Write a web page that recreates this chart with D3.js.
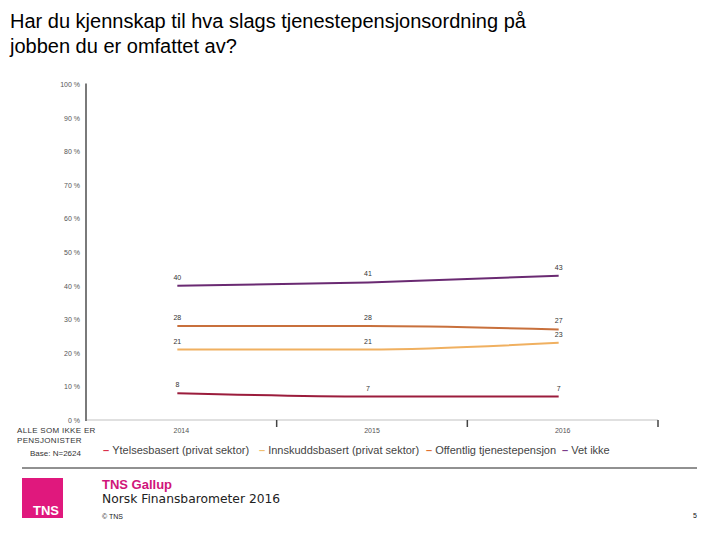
<!DOCTYPE html>
<html><head><meta charset="utf-8">
<script src="https://cdn.jsdelivr.net/npm/d3@7"></script>
<style>body{margin:0;background:#fff}svg{display:block;font-family:"Liberation Sans",Arial,sans-serif}</style>
</head><body><svg id="c" width="720" height="540"></svg>
<script>
const years = ["2014","2015","2016"];
const seriesNames = ["Ytelsesbasert (privat sektor)","Innskuddsbasert (privat sektor)","Offentlig tjenestepensjon","Vet ikke"];
const ytelses = [8,7,7];
const innskudds = [21,21,23];
const offentlig = [28,28,27];
const vetIkke = [40,41,43];
const yTicks = [0,10,20,30,40,50,60,70,80,90,100];
const lineColors = ["#9b1c3c","#f0b060","#c8703c","#6a2a72"];
const legendColors = ["#d9304a","#f0c070","#e07030","#7a3c8a"];
const allSeries = [ytelses, innskudds, offentlig, vetIkke];

const svg = d3.select("#c");
// Title
svg.append("text").attr("x",10).attr("y",28).attr("font-size",20).attr("fill","#000").text("Har du kjennskap til hva slags tjenestepensjonsordning på");
svg.append("text").attr("x",10).attr("y",53).attr("font-size",20).attr("fill","#000").text("jobben du er omfattet av?");

const x0 = 86, x1 = 658, yTop = 84.5, yBot = 420;
const x = d3.scaleBand().domain(years).range([x0,x1]);
const y = d3.scaleLinear().domain([0,100]).range([yBot,yTop]);

// y tick labels
const yAxis = d3.axisLeft(y).tickValues(yTicks).tickSize(0).tickPadding(6).tickFormat(d=>d+" %");
const ga = svg.append("g").attr("transform",`translate(${x0},0)`).call(yAxis);
ga.select(".domain").remove();
ga.selectAll("text").attr("font-size",7).attr("fill","#555").attr("font-family","Liberation Sans, Arial, sans-serif");

// x axis baseline
svg.append("line").attr("x1",x0).attr("x2",x1).attr("y1",yBot).attr("y2",yBot).attr("stroke","#e0e0e0").attr("stroke-width",2);
// y axis line
svg.append("line").attr("x1",x0).attr("x2",x0).attr("y1",yTop-1).attr("y2",yBot+1).attr("stroke","#7a7a7a").attr("stroke-width",2);
// tick marks at band boundaries
const bounds = years.slice(1).map(d=>x(d)).concat([x1]);
svg.selectAll(".tk").data(bounds).join("line").attr("x1",d=>d).attr("x2",d=>d).attr("y1",yBot).attr("y2",yBot+7).attr("stroke","#444").attr("stroke-width",1.5);
// x labels
svg.selectAll(".xl").data(years).join("text").attr("x",d=>x(d)+x.bandwidth()/2).attr("y",yBot+13).attr("text-anchor","middle").attr("font-size",7).attr("fill","#555").text(d=>d);

const cx = d=>x(d)+x.bandwidth()/2 - 4;
const line = d3.line().x((d,i)=>cx(years[i])).y(d=>y(d)).curve(d3.curveMonotoneX);
allSeries.forEach((s,k)=>{
  svg.append("path").attr("d",line(s)).attr("fill","none").attr("stroke",lineColors[k]).attr("stroke-width",2);
  svg.selectAll(".lb"+k).data(s).join("text").attr("x",(d,i)=>cx(years[i])).attr("y",d=>y(d)-6).attr("text-anchor","middle").attr("font-size",7).attr("fill","#333").text(d=>d);
});

// legend
const legX = [103,259,426,562];
seriesNames.forEach((n,k)=>{
  const t = svg.append("text").attr("x",legX[k]).attr("y",454).attr("font-size",11).attr("fill","#444");
  t.append("tspan").attr("fill",legendColors[k]).attr("font-weight","bold").text("– ");
  t.append("tspan").text(n);
});

// left note
svg.append("text").attr("x",17).attr("y",433).attr("font-size",8).attr("fill","#333").attr("letter-spacing",0.3).text("ALLE SOM IKKE ER");
svg.append("text").attr("x",17).attr("y",443).attr("font-size",8).attr("fill","#333").attr("letter-spacing",0.3).text("PENSJONISTER");
svg.append("text").attr("x",30).attr("y",456).attr("font-size",8).attr("fill","#333").text("Base: N=2624");

// footer
svg.append("line").attr("x1",22).attr("x2",697).attr("y1",468).attr("y2",468).attr("stroke","#222").attr("stroke-width",1);
svg.append("rect").attr("x",22).attr("y",478).attr("width",41).attr("height",40).attr("fill","#e0187d");
svg.append("text").attr("x",46).attr("y",515).attr("text-anchor","middle").attr("font-size",13).attr("font-weight","bold").attr("fill","#fff").text("TNS");
svg.append("text").attr("x",102).attr("y",489).attr("font-size",13).attr("font-weight","bold").attr("fill","#d0157a").text("TNS Gallup");
svg.append("text").attr("x",102).attr("y",503).attr("font-size",12.3).attr("font-family","DejaVu Sans, Verdana, sans-serif").attr("fill","#222").text("Norsk Finansbarometer 2016");
svg.append("text").attr("x",102).attr("y",519).attr("font-size",7).attr("fill","#222").text("© TNS");
svg.append("text").attr("x",697).attr("y",518).attr("text-anchor","end").attr("font-size",7).attr("fill","#111").text("5");
</script></body></html>
